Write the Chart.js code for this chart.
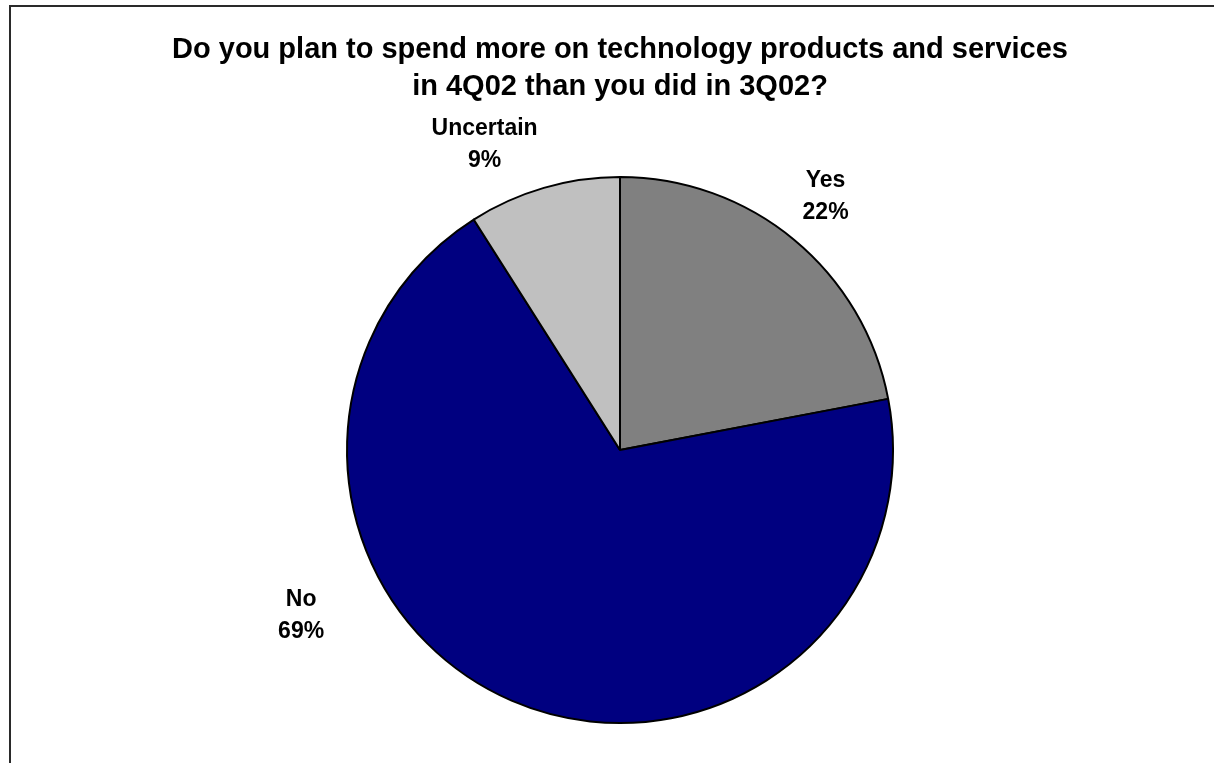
<!DOCTYPE html>
<html>
<head>
<meta charset="utf-8">
<title>Technology spending plans, 4Q02 vs 3Q02</title>
<script src="https://cdn.jsdelivr.net/npm/chart.js@4/dist/chart.umd.min.js"></script>
<style>
  html, body { margin: 0; padding: 0; background: #ffffff; }
  #wrap { position: relative; width: 1214px; height: 763px; }
</style>
</head>
<body>
<div id="wrap"><canvas id="pie" width="1214" height="763"></canvas></div>
<script>
// Survey answers, clockwise from 12 o'clock
const answers = ['Yes', 'No', 'Uncertain'];
const shares = [22, 69, 9];
const sliceColors = ['#808080', '#000080', '#C0C0C0'];
const titleLines = [
  'Do you plan to spend more on technology products and services',
  'in 4Q02 than you did in 3Q02?'
];

const FONT = '"Liberation Sans", Arial, Helvetica, sans-serif';

// Thin frame along the top and left edges of the page
const framePlugin = {
  id: 'frame',
  beforeDraw(chart) {
    const c = chart.ctx;
    c.save();
    c.strokeStyle = '#2a2a2a';
    c.lineWidth = 2;
    c.beginPath();
    c.moveTo(10, chart.height + 2);
    c.lineTo(10, 6);
    c.lineTo(chart.width + 2, 6);
    c.stroke();
    c.restore();
  }
};

// Two-line category / percent labels set around the pie
const sliceLabels = {
  id: 'sliceLabels',
  afterDatasetsDraw(chart, args, opts) {
    const meta = chart.getDatasetMeta(0);
    const c = chart.ctx;
    c.save();
    c.font = 'bold 23px ' + FONT;
    c.fillStyle = '#000000';
    c.textAlign = 'center';
    c.textBaseline = 'alphabetic';
    meta.data.forEach((arc, i) => {
      const place = opts.place[i];
      const r = arc.outerRadius;
      const x = arc.x + place[0] * r;
      const y = arc.y + place[1] * r;
      c.fillText(answers[i], x, y);
      c.fillText(shares[i] + '%', x, y + opts.lineGap);
    });
    c.restore();
  }
};

new Chart(document.getElementById('pie'), {
  type: 'pie',
  data: {
    labels: answers,
    datasets: [{
      data: shares,
      backgroundColor: sliceColors,
      borderColor: '#000000',
      borderWidth: 2,
      radius: 273
    }]
  },
  options: {
    responsive: false,
    animation: false,
    events: [],
    layout: { padding: { left: 26, right: 0, top: 0, bottom: 0 } },
    plugins: {
      legend: { display: false },
      tooltip: { enabled: false },
      title: {
        display: true,
        text: titleLines,
        color: '#000000',
        font: { family: FONT, size: 29, weight: 'bold', lineHeight: 1.26 },
        padding: { top: 32, bottom: 32 }
      },
      sliceLabels: {
        lineGap: 32,
        place: [[0.753, -0.964], [-1.168, 0.570], [-0.496, -1.154]]
      }
    }
  },
  plugins: [framePlugin, sliceLabels]
});
</script>
</body>
</html>
